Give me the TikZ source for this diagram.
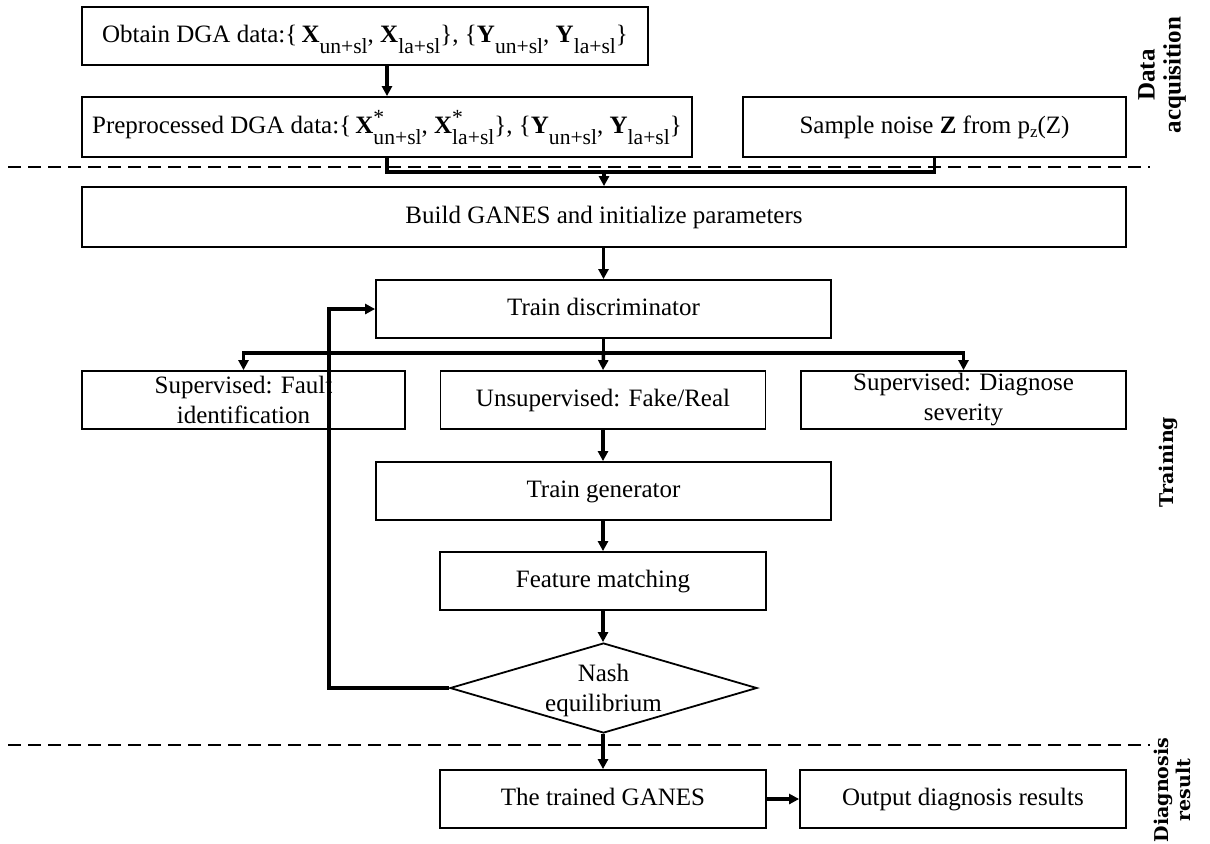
\documentclass[tikz,border=0pt]{standalone}
\usepackage{fontspec}
\setmainfont{Liberation Serif}
\newfontfamily\labelfont{DejaVu Serif}
\usetikzlibrary{arrows.meta,shapes.geometric}

% lowered subscript and starred variable, as set in the flowchart text
\newcommand{\lsub}[1]{\raisebox{-5.5pt}{\fontsize{10.8}{11}\selectfont #1}}
\newcommand{\bvar}[2]{\textbf{#1}\lsub{#2}}
\newcommand{\svar}[2]{\textbf{#1}\rlap{\raisebox{4.5pt}{\fontsize{10.8}{11}\selectfont *}}\lsub{#2}}

\begin{document}
\begin{tikzpicture}[x=0.5pt,y=-0.5pt,
  every node/.style={font=\fontsize{12.5}{15}\selectfont},
  box/.style={draw, line width=0.9pt, inner sep=0pt, minimum height=29pt, align=center},
  one/.style={text height=9pt, text depth=3pt},
  arr/.style={line width=1.8pt, -{Triangle[length=5pt,width=5pt]}},
  flow/.style={line width=1.8pt},
  sep/.style={line width=0.9pt, dash pattern=on 6.5pt off 3.5pt},
  side/.style={rotate=90, align=center, inner sep=0pt}]

\useasboundingbox (0,0) rectangle (1210,843);

% data acquisition
\node[box, one, minimum width=283pt] (obtain) at (365,36)
  {Obtain DGA data:\{\,\bvar{X}{un+sl}, \bvar{X}{la+sl}\}, \{\bvar{Y}{un+sl}, \bvar{Y}{la+sl}\}};
\node[box, one, minimum width=305pt, minimum height=30pt] (prep) at (387,127)
  {Preprocessed DGA data:\{\,\svar{X}{un+sl}, \svar{X}{la+sl}\}, \{\bvar{Y}{un+sl}, \bvar{Y}{la+sl}\}};
\node[box, one, minimum width=191.5pt, minimum height=30pt] (noise) at (934.5,127)
  {Sample noise \textbf{Z} from p\raisebox{-0.35ex}{\fontsize{8.5}{9}\selectfont z}(Z)};

% training
\node[box, one, minimum width=522pt, minimum height=30pt] (build) at (604,217) {Build GANES and initialize parameters};
\node[box, one, minimum width=227.5pt] (disc) at (603.5,309) {Train discriminator};
\node[box, minimum width=161.5pt] (fault) at (243.5,400) {Supervised: Fault\\identification};
\node[box, one, minimum width=162.5pt] (unsup) at (603,400) {Unsupervised: Fake/Real};
\node[box, minimum width=162.5pt] (sev) at (963.5,400) {Supervised: Diagnose\\severity};
\node[box, one, minimum width=227.5pt] (gen) at (603.5,491) {Train generator};
\node[box, one, minimum width=163pt] (feat) at (603,581) {Feature matching};
\node[draw, line width=0.9pt, diamond, aspect=3.4, inner sep=0pt,
      minimum width=153.5pt, minimum height=45pt] (nash) at (603.5,688) {};
\node[align=center, inner sep=0pt] (nashtxt) at (603.5,690) {Nash\\equilibrium};

% diagnosis result
\node[box, one, minimum width=163pt] (trained) at (603,799) {The trained GANES};
\node[box, one, minimum width=163pt] (output) at (963,799) {Output diagnosis results};

% stage separators
\coordinate (sepA1) at (8,167);
\coordinate (sepA2) at (1150,167);
\coordinate (sepB1) at (8,745);
\coordinate (sepB2) at (1150,745);
\draw[sep] (sepA1) -- (sepA2);
\draw[sep] (sepB1) -- (sepB2);

% stage labels
\node[side, font=\bfseries\fontsize{12.5}{13}\selectfont] (lblA) at (1162,75) {Data\\acquisition};
\node[side, font=\labelfont\bfseries\fontsize{9.5}{11}\selectfont] (lblB) at (1168,462) {Training};
\node[side, font=\labelfont\bfseries\fontsize{9.5}{11}\selectfont] (lblC) at (1172,790) {Diagnosis\\result};

% connectors
\coordinate (mg) at (604,172);
\coordinate (br) at (603.5,353);
\coordinate (fb) at (329,0);

\draw[arr] (obtain.south -| prep.north) -- (prep.north);
\draw[flow] (prep.south) |- (mg) -| (noise.south);
\draw[arr] (mg) -- (build.north -| mg);
\draw[arr] (build.south -| disc.north) -- (disc.north);
\draw[flow] (disc.south) -- (br);
\draw[arr] (br) -| (fault.north);
\draw[arr] (br) -| (sev.north);
\draw[arr] (br) -- (unsup.north);
\draw[arr] (unsup.south) -- (gen.north -| unsup.south);
\draw[arr] (gen.south -| feat.north) -- (feat.north);
\draw[arr] (feat.south) -- (nash.north -| feat.south);
\draw[arr] (nash.west) -- (nash.west -| fb) |- (disc.west);
\draw[arr] (nash.south -| trained.north) -- (trained.north);
\draw[arr] (trained.east) -- (output.west);

\end{tikzpicture}
\end{document}
